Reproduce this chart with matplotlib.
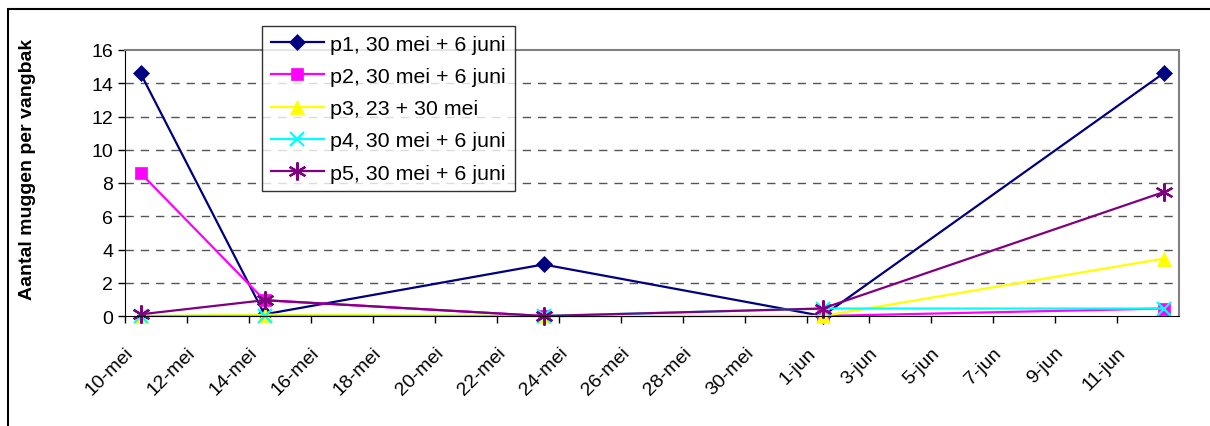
import pandas as pd
import numpy as np
import matplotlib.pyplot as plt
from matplotlib.patches import Rectangle

plt.rcParams['font.family'] = ['Liberation Sans', 'DejaVu Sans']

# sampling dates and counts per trap
dates = ['2007-05-10', '2007-05-14', '2007-05-23', '2007-06-01', '2007-06-12']
p1 = [14.6, 0.1, 3.1, 0.0, 14.6]
p2 = [8.6, 0.95, 0.0, 0.0, 0.45]
p3 = [0.0, 0.08, 0.0, 0.0, 3.45]
p4 = [0.0, 0.0, 0.0, 0.45, 0.45]
p5 = [0.1, 0.95, 0.0, 0.45, 7.45]

series_names = ['p1, 30 mei + 6 juni', 'p2, 30 mei + 6 juni', 'p3, 23 + 30 mei',
                'p4, 30 mei + 6 juni', 'p5, 30 mei + 6 juni']
tick_labels = ['10-mei', '12-mei', '14-mei', '16-mei', '18-mei', '20-mei', '22-mei',
               '24-mei', '26-mei', '28-mei', '30-mei', '1-jun', '3-jun', '5-jun',
               '7-jun', '9-jun', '11-jun']

COLORS = ['#000080', '#FF00FF', '#FFFF00', '#00FFFF', '#800080']
MARKERS = ['D', 's', '^', 'x', (6, 2, 0)]
MSIZES = [8, 8, 10, 10, 13]

x = pd.to_datetime(dates) + pd.Timedelta(hours=12)
ticks = pd.date_range('2007-05-10', periods=len(tick_labels), freq='2D')

fig = plt.figure(figsize=(12.1, 4.27), dpi=100)
ax = fig.add_axes([125/1210, 1-317/427, (1179-125)/1210, (317-51)/427])

for vals, name, c, m, ms in zip([p1, p2, p3, p4, p5], series_names, COLORS, MARKERS, MSIZES):
    thin = m == 'x' or isinstance(m, tuple)
    ax.plot(x, vals, color=c, lw=1.6, marker=m, ms=ms, mew=1.6 if thin else 0.5,
            mec=c, mfc=c, label=name, clip_on=False)

ax.set_ylim(0, 16)
ax.set_yticks(range(0, 17, 2))
ax.set_xlim(pd.Timestamp('2007-05-10'), pd.Timestamp('2007-06-13'))
ax.set_xticks(ticks)
ax.set_xticklabels(tick_labels, rotation=45, ha='right', rotation_mode='anchor')
ax.xaxis.set_minor_locator(plt.NullLocator())
ax.tick_params(axis='both', labelsize=14, direction='out', length=5, width=1, colors='black')
ax.tick_params(axis='x', pad=15)

for y in range(2, 16, 2):
    ax.axhline(y, color='#555555', lw=1, dashes=(6, 5), zorder=0)

ax.spines['top'].set_color('#808080')
ax.spines['right'].set_color('#808080')
ax.spines['top'].set_linewidth(1.5)
ax.spines['right'].set_linewidth(1.5)
ax.spines['left'].set_color('black')
ax.spines['bottom'].set_color('black')

fig.text(28/1210, 1-169/427, 'Aantal muggen per vangbak', rotation=90,
         ha='center', va='center', fontsize=14, fontweight='bold')

leg = fig.legend(loc='upper left', bbox_to_anchor=(262/1210, 1-27/427),
                 fontsize=15.4, frameon=True, fancybox=False, borderaxespad=0,
                 handlelength=2.5, handletextpad=0.3, labelspacing=0.62,
                 borderpad=0.4)
leg.get_frame().set_edgecolor('black')
leg.get_frame().set_linewidth(1)

# chart area border
fig.patches.append(Rectangle((8/1210, -0.1), 1.2, 1-10/427+0.1, transform=fig.transFigure,
                             fill=False, edgecolor='black', lw=1.5))

plt.savefig('out.png', dpi=100)
plt.close()
